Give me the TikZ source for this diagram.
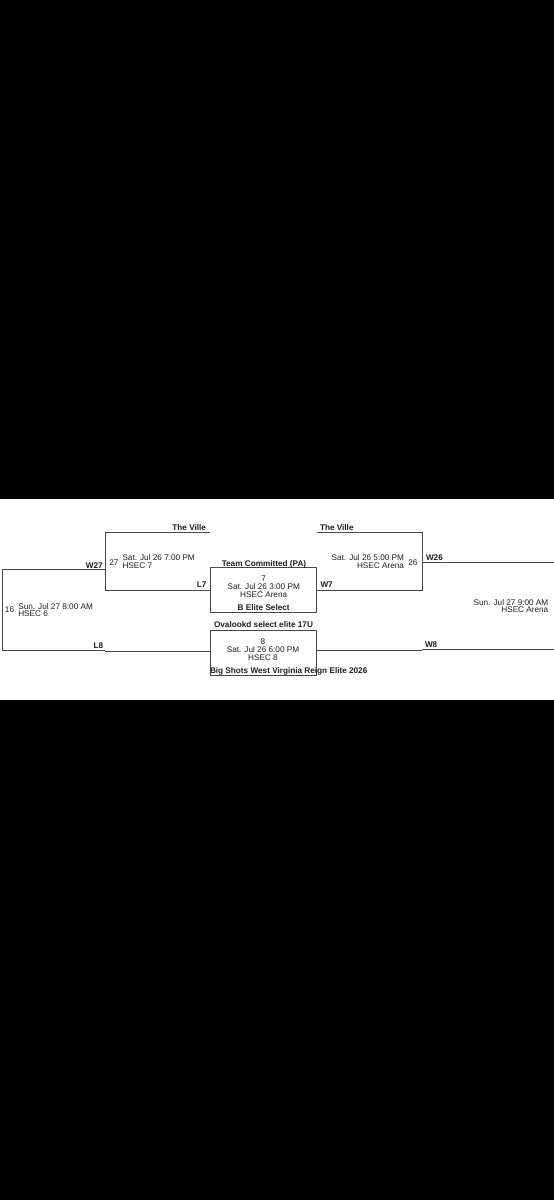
\documentclass[tikz,border=0pt]{standalone}
\usepackage{fontspec}
\setmainfont{Liberation Sans}
\begin{document}
\begin{tikzpicture}[x=1pt,y=-1pt,
  txt/.style={inner sep=0pt,outer sep=0pt,font=\fontsize{8.2}{9}\selectfont,text=black!88},
  btxt/.style={txt,font=\fontsize{8.2}{9}\selectfont\bfseries},
  wire/.style={draw=black!72,line width=0.9pt}]
\useasboundingbox (0,0) rectangle (554,1200);
\fill[black] (0,0) rectangle (554,1200);
\fill[white] (0,499) rectangle (554,700);
% corner coordinates
\coordinate (a27tr) at (210,532);
\coordinate (a27tl) at (105,532);
\coordinate (a27bl) at (105,590);
\coordinate (a27br) at (210.7,590);
\coordinate (w27s) at (2,569);
\coordinate (w27e) at (105,569);
\coordinate (b16bl) at (2,650.5);
\coordinate (b16bm) at (105,650.5);
\coordinate (b16bm2) at (105,651.5);
\coordinate (b16br) at (210,651.5);
\coordinate (b7tl) at (210.7,567.7);
\coordinate (b7br) at (316.7,612.7);
\coordinate (b8tl) at (210,630);
\coordinate (b8br) at (316,675.5);
\coordinate (a26tl) at (316.5,532);
\coordinate (a26tr) at (422.3,532);
\coordinate (a26br) at (422.3,590);
\coordinate (a26bl) at (316.7,590);
\coordinate (w26s) at (422.3,562);
\coordinate (w26e) at (554,562);
\coordinate (w8s) at (316,650);
\coordinate (w8m) at (422,650);
\coordinate (w8m2) at (422,649.3);
\coordinate (w8e) at (554,649.3);
% lines
\draw[wire] (a27tr) -- (a27tl) -- (a27bl) -- (a27br);
\draw[wire] (w27s) -- (w27e);
\draw[wire] (w27s) -- (b16bl) -- (b16bm);
\draw[wire] (b16bm2) -- (b16br);
\draw[wire] (b7tl) rectangle (b7br);
\draw[wire] (b8tl) rectangle (b8br);
\draw[wire] (a26tl) -- (a26tr) -- (a26br) -- (a26bl);
\draw[wire] (w26s) -- (w26e);
\draw[wire] (w8s) -- (w8m);
\draw[wire] (w8m2) -- (w8e);
% texts game 27
\node[btxt,anchor=base east] (tv1) at (206,530) {The Ville};
\node[txt,anchor=base west] (g27num) at (109.3,565) {27};
\node[txt,anchor=base west] (g27d) at (122.5,560) {Sat. Jul 26 7:00 PM};
\node[txt,anchor=base west] (g27l) at (122.5,568) {HSEC 7};
\node[btxt,anchor=base east] (w27) at (102.7,568) {W27};
\node[btxt,anchor=base east] (l7) at (206.5,587.5) {L7};
% game 7
\node[btxt,anchor=base] (tc) at (264,566) {Team Committed (PA)};
\node[txt,anchor=base] (g7num) at (263.7,581) {7};
\node[txt,anchor=base] (g7d) at (263.7,589.3) {Sat. Jul 26 3:00 PM};
\node[txt,anchor=base] (g7l) at (263.7,597) {HSEC Arena};
\node[btxt,anchor=base] (be) at (263.7,610.7) {B Elite Select};
% game 8
\node[btxt,anchor=base] (ov) at (263.5,627.7) {Ovalookd select elite 17U};
\node[txt,anchor=base] (g8num) at (263,644) {8};
\node[txt,anchor=base] (g8d) at (263,652.7) {Sat. Jul 26 6:00 PM};
\node[txt,anchor=base] (g8l) at (263,660.7) {HSEC 8};
\node[btxt,anchor=base west] (bs) at (210,673.3) {Big Shots West Virginia Reign Elite 2026};
% game 26
\node[btxt,anchor=base west] (tv2) at (320,530) {The Ville};
\node[txt,anchor=base east] (g26d) at (404,560) {Sat. Jul 26 5:00 PM};
\node[txt,anchor=base east] (g26l) at (404,568) {HSEC Arena};
\node[txt,anchor=base east] (g26num) at (417.5,565) {26};
\node[btxt,anchor=base west] (w7) at (320.5,587.3) {W7};
\node[btxt,anchor=base west] (w26) at (426,560) {W26};
% game 16
\node[txt,anchor=base west] (g16num) at (5,612.7) {16};
\node[txt,anchor=base west] (g16d) at (18.3,609) {Sun. Jul 27 8:00 AM};
\node[txt,anchor=base west] (g16l) at (18.3,616.7) {HSEC 6};
\node[btxt,anchor=base east] (l8) at (103.3,648.7) {L8};
% final
\node[btxt,anchor=base west] (w8) at (425,647.3) {W8};
\node[txt,anchor=base east] (gfd) at (548.3,605) {Sun. Jul 27 9:00 AM};
\node[txt,anchor=base east] (gfl) at (548.3,612.7) {HSEC Arena};
\end{tikzpicture}
\end{document}
